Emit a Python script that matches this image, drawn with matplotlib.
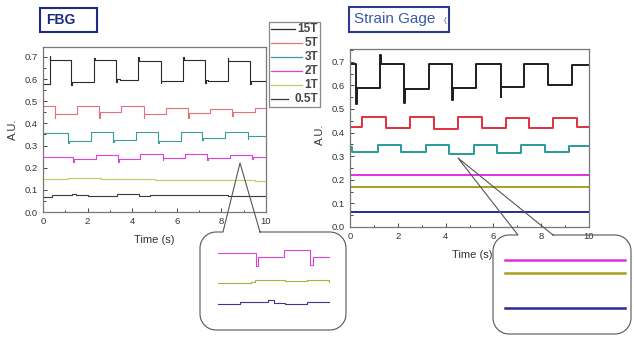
import numpy as np
import matplotlib.pyplot as plt
from matplotlib.patches import Rectangle
from matplotlib.ticker import MultipleLocator

plt.rcParams['font.family'] = ['Liberation Sans', 'DejaVu Sans']

# ---- FBG traces (step breakpoints: time, level) ----
fbg_names = ['15T', '5T', '3T', '2T', '1T', '0.5T']
fbg_colors = ['#2a2a2a', '#e8707a', '#3a9e98', '#e040dc', '#c8c860', '#3a3a3a']

fbg_15T_t = [0, 0.3, 0.33, 1.27, 1.3, 2.29, 2.32, 3.26, 3.3, 3.45, 4.27, 4.3,
             5.28, 5.31, 6.29, 6.32, 7.26, 7.3, 7.4, 8.28, 8.31, 9.28, 9.32, 10]
fbg_15T_v = [0.58, 0.705, 0.685, 0.572, 0.588, 0.695, 0.687, 0.585, 0.6, 0.598, 0.7, 0.683,
             0.582, 0.59, 0.7, 0.686, 0.582, 0.597, 0.592, 0.695, 0.683, 0.58, 0.59, 0.59]

fbg_5T_t = [0, 0.52, 0.55, 1.53, 2.51, 2.54, 3.52, 4.52, 4.55, 5.51, 6.51, 6.54,
            7.49, 8.49, 8.52, 9.5, 10]
fbg_5T_v = [0.477, 0.425, 0.442, 0.48, 0.425, 0.452, 0.48, 0.425, 0.443, 0.469, 0.425, 0.445,
            0.466, 0.435, 0.45, 0.468, 0.468]

fbg_3T_t = [0, 1.12, 1.15, 2.17, 3.14, 3.17, 4.16, 5.16, 5.19, 6.17, 7.14, 7.17,
            8.16, 9.18, 9.21, 10]
fbg_3T_v = [0.355, 0.31, 0.322, 0.36, 0.315, 0.325, 0.362, 0.31, 0.32, 0.36, 0.325, 0.335,
            0.36, 0.33, 0.341, 0.341]

fbg_2T_t = [0, 1.35, 1.38, 2.37, 3.37, 3.4, 4.37, 5.36, 5.39, 6.36, 7.37, 7.4,
            8.38, 9.39, 9.42, 10]
fbg_2T_v = [0.25, 0.225, 0.238, 0.258, 0.228, 0.24, 0.26, 0.233, 0.245, 0.26, 0.235, 0.245,
            0.256, 0.24, 0.25, 0.25]

fbg_1T_t = [0, 1.1, 2.6, 3.5, 5.0, 7.0, 8.5, 9.5, 10]
fbg_1T_v = [0.148, 0.154, 0.148, 0.151, 0.143, 0.145, 0.143, 0.139, 0.139]

fbg_05T_t = [0, 0.4, 1.3, 1.5, 2.0, 3.3, 4.3, 4.8, 7.2, 8.3, 9.4, 10]
fbg_05T_v = [0.067, 0.077, 0.083, 0.078, 0.073, 0.08, 0.07, 0.079, 0.077, 0.07, 0.072, 0.072]

fbg_t = [fbg_15T_t, fbg_5T_t, fbg_3T_t, fbg_2T_t, fbg_1T_t, fbg_05T_t]
fbg_v = [fbg_15T_v, fbg_5T_v, fbg_3T_v, fbg_2T_v, fbg_1T_v, fbg_05T_v]

# ---- Strain gage traces ----
sg_colors = ['#1e1e1e', '#e03040', '#2a9a9a', '#e030e0', '#a8a020', '#2a2a90']

sg_15T_t = [0, 0.25, 0.28, 1.27, 1.3, 2.28, 2.31, 3.3, 4.27, 4.3, 5.28, 6.3, 6.33,
            7.3, 8.28, 9.29, 10]
sg_15T_v = [0.69, 0.523, 0.587, 0.73, 0.692, 0.525, 0.585, 0.69, 0.54, 0.59, 0.69, 0.55, 0.592,
            0.69, 0.6, 0.685, 0.685]

sg_5T_t = [0, 0.5, 1.51, 2.51, 3.53, 4.51, 5.53, 6.51, 7.51, 8.49, 9.51, 10]
sg_5T_v = [0.422, 0.466, 0.42, 0.466, 0.416, 0.465, 0.42, 0.462, 0.42, 0.46, 0.425, 0.425]

sg_3T_t = [0, 0.1, 1.16, 2.14, 3.16, 4.16, 5.17, 6.16, 7.16, 8.17, 9.16, 10]
sg_3T_v = [0.34, 0.316, 0.346, 0.316, 0.346, 0.31, 0.346, 0.315, 0.346, 0.318, 0.342, 0.342]

sg_2T_t = [0, 10]
sg_2T_v = [0.222, 0.222]
sg_1T_t = [0, 10]
sg_1T_v = [0.171, 0.171]
sg_05T_t = [0, 10]
sg_05T_v = [0.065, 0.065]

sg_t = [sg_15T_t, sg_5T_t, sg_3T_t, sg_2T_t, sg_1T_t, sg_05T_t]
sg_v = [sg_15T_v, sg_5T_v, sg_3T_v, sg_2T_v, sg_1T_v, sg_05T_v]

# ---- callout insets (normalised) ----
ins_left_colors = ['#e040dc', '#b0b040', '#3a3a90']
ins_left_t = [[0, 0.34, 0.36, 0.59, 0.83, 0.85, 1],
              [0, 0.3, 0.33, 0.6, 0.8, 1],
              [0, 0.2, 0.45, 0.5, 0.6, 0.8, 1]]
ins_left_v = [[0.84, 0.68, 0.79, 0.875, 0.69, 0.79, 0.79],
              [0.46, 0.48, 0.5, 0.49, 0.5, 0.48],
              [0.2, 0.22, 0.25, 0.21, 0.2, 0.22, 0.23]]

ins_right_colors = ['#e030e0', '#a8a020', '#2a2a90']
ins_right_t = [[0, 1], [0, 1], [0, 1]]
ins_right_v = [[0.8, 0.8], [0.63, 0.63], [0.16, 0.16]]

W, H = 634, 337
fig = plt.figure(figsize=(W / 100, H / 100), dpi=100)


def px_axes(x0, y0, x1, y1, **kw):
    return fig.add_axes([x0 / W, 1 - y1 / H, (x1 - x0) / W, (y1 - y0) / H], **kw)


def style(ax, ymax):
    ax.set_xlim(0, 10)
    ax.set_ylim(0, ymax)
    ax.xaxis.set_major_locator(MultipleLocator(2))
    ax.xaxis.set_minor_locator(MultipleLocator(1))
    ax.yaxis.set_major_locator(MultipleLocator(0.1))
    ax.yaxis.set_minor_locator(MultipleLocator(0.05))
    ax.yaxis.set_major_formatter(lambda v, p: f'{v:.1f}')
    ax.tick_params(which='both', direction='in', labelsize=6.8, colors='#444',
                   labelcolor='#333', width=0.7)
    ax.tick_params(which='major', length=3)
    ax.tick_params(which='minor', length=1.8)
    for s in ax.spines.values():
        s.set_color('#777')
        s.set_linewidth(0.9)
    ax.set_xlabel('Time (s)', fontsize=8, color='#333')
    ax.set_ylabel('A.U.', fontsize=8, color='#333')


ax1 = px_axes(43, 47, 266, 212)
for t, v, c in zip(fbg_t, fbg_v, fbg_colors):
    ax1.step(t, v, where='post', color=c, lw=0.8)
style(ax1, 0.745)
ax1.xaxis.set_label_coords(0.5, -0.14)
ax1.yaxis.set_label_coords(-0.11, 0.5)

ax2 = px_axes(350, 49, 589, 227)
for t, v, c in zip(sg_t, sg_v, sg_colors):
    ax2.step(t, v, where='post', color=c, lw=1.4)
style(ax2, 0.754)
ax2.xaxis.set_label_coords(0.51, -0.13)
ax2.yaxis.set_label_coords(-0.105, 0.52)

# overlay in pixel coordinates
ov = fig.add_axes([0, 0, 1, 1], zorder=5)
ov.set_xlim(0, W)
ov.set_ylim(H, 0)
ov.set_axis_off()

# title boxes
ov.add_patch(Rectangle((40, 8), 57, 24, fill=False, ec='#1c2a80', lw=1.5))
ov.text(46, 20.5, 'FBG', fontsize=10, fontweight='bold', color='#1c2a80', va='center')
ov.add_patch(Rectangle((349, 7), 100, 25, fill=False, ec='#2c3a8a', lw=1.5))
ov.text(354, 19.5, 'Strain Gage', fontsize=11, color='#3a5aa8', va='center')
ov.text(443, 21, '(', fontsize=6, color='#3a5aa8', va='center')

# legend
ov.add_patch(Rectangle((269, 22), 51, 85, fc='white', ec='#888', lw=0.9))
for i, (name, c) in enumerate(zip(fbg_names, fbg_colors)):
    y = 29 + i * 14
    ov.plot([271, 316 - 7.0 * len(name)], [y, y], color=c, lw=0.9)
    ov.text(318, y + 0.5, name, fontsize=8.5, fontweight='bold', color='#444',
            ha='right', va='center')


def callout(x0, y0, x1, y1, g0, g1, apex, r=16):
    def arc(cx, cy, a0, a1):
        a = np.radians(np.linspace(a0, a1, 12))
        return list(cx + r * np.cos(a)), list(cy + r * np.sin(a))
    xs, ys = [g1], [y0]
    for cx, cy, a0, a1 in [(x1 - r, y0 + r, -90, 0), (x1 - r, y1 - r, 0, 90),
                           (x0 + r, y1 - r, 90, 180), (x0 + r, y0 + r, 180, 270)]:
        ax_, ay_ = arc(cx, cy, a0, a1)
        xs += ax_
        ys += ay_
    xs += [g0, apex[0], g1]
    ys += [y0, apex[1], y0]
    ov.plot(xs, ys, color='#555', lw=0.8, solid_joinstyle='round')


callout(200, 232, 346, 330, 223, 260, (240, 163))
callout(493, 235, 631, 334, 518, 553, (458, 158))

ins1 = px_axes(210, 240, 335, 320, zorder=6)
for t, v, c in zip(ins_left_t, ins_left_v, ins_left_colors):
    ins1.step(t, v, where='post', color=c, lw=0.8)
ins1.set_xlim(-0.07, 1.05)
ins1.set_ylim(0, 1)
ins1.set_axis_off()

ins2 = px_axes(500, 245, 630, 320, zorder=6)
for t, v, c in zip(ins_right_t, ins_right_v, ins_right_colors):
    ins2.step(t, v, where='post', color=c, lw=1.8)
ins2.set_xlim(-0.04, 1.04)
ins2.set_ylim(0, 1)
ins2.set_axis_off()

fig.savefig('out.png', dpi=100)
